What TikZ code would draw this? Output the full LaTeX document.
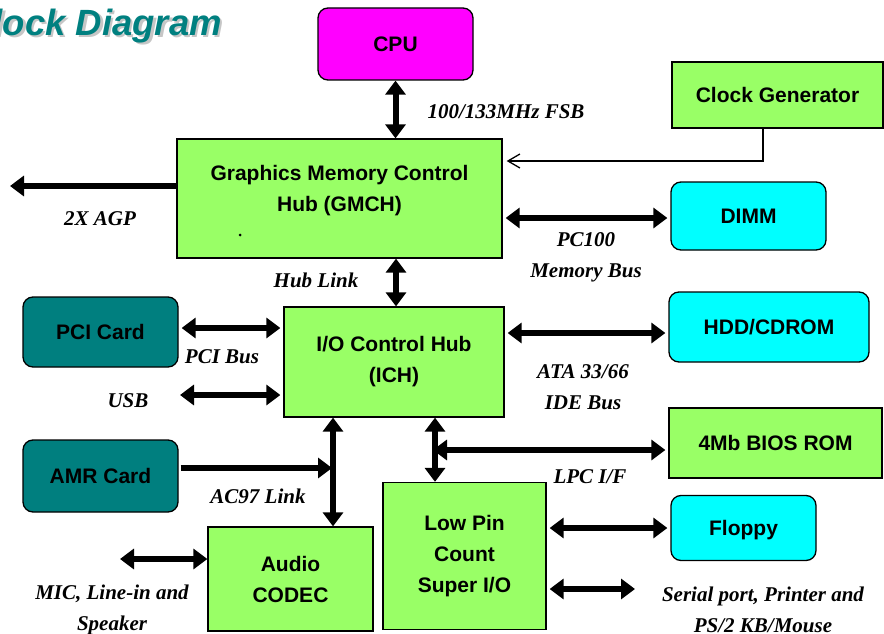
\documentclass[tikz,border=0pt]{standalone}
\usepackage{fontspec}
\setmainfont{Liberation Serif}
\setsansfont{Liberation Sans}
\usetikzlibrary{arrows.meta}
\definecolor{boxgreen}{HTML}{99FF66}
\definecolor{boxcyan}{HTML}{00FFFF}
\definecolor{boxteal}{HTML}{007F7F}
\definecolor{boxmagenta}{HTML}{FF00FF}
\definecolor{titleteal}{HTML}{008080}
\begin{document}
\begin{tikzpicture}[x=1pt,y=-1pt,
	box/.style={draw, line width=1.3pt, align=center, inner sep=0pt,
		font=\sffamily\bfseries\fontsize{21}{31}\selectfont},
	chip/.style={box, fill=boxgreen},
	drive/.style={box, fill=boxcyan, rounded corners=10pt},
	card/.style={box, fill=boxteal, rounded corners=10pt},
	lbl/.style={align=center, inner sep=0pt, font=\bfseries\itshape\fontsize{21}{31}\selectfont},
	bus/.style={line width=6pt, {Triangle[length=14pt,width=20pt]}-{Triangle[length=14pt,width=20pt]}, shorten <=3pt, shorten >=3pt},
	feed/.style={line width=6pt, -{Triangle[length=14pt,width=20pt]}}]
	\useasboundingbox (0,0) rectangle (884,634);
	\node[anchor=east, text=gray!45, font=\sffamily\bfseries\itshape\fontsize{36.5}{40}\selectfont] (shadow) at (228,28.5) {Block Diagram};
	\node[anchor=east, text=titleteal, font=\sffamily\bfseries\itshape\fontsize{36.5}{40}\selectfont] (title) at (225.5,26) {Block Diagram};
	\node[box, fill=boxmagenta, rounded corners=10pt, minimum width=155, minimum height=72] (cpu) at (395.5,44) {CPU};
	\node[chip, minimum width=211, minimum height=66] (clk) at (777.5,95) {Clock Generator};
	\node[chip, minimum width=325, minimum height=119] (gmch) at (339.5,198.5) {};
	\node[lbl, font=\sffamily\bfseries\fontsize{21}{31}\selectfont] (gmchtext) at (339.5,191) {Graphics Memory Control\\Hub (GMCH)};
	\fill (240,235) circle (1.5);
	\node[drive, minimum width=155, minimum height=68] (dimm) at (748.5,216) {DIMM};
	\node[drive, minimum width=200, minimum height=70] (hdd) at (769,327) {HDD/CDROM};
	\node[chip, minimum width=213, minimum height=70] (bios) at (775.5,443) {4Mb BIOS ROM};
	\node[drive, minimum width=145, minimum height=65, text depth=-3pt] (floppy) at (743.5,528) {Floppy};
	\node[card, minimum width=155, minimum height=70] (pci) at (100.5,332) {PCI Card};
	\node[card, minimum width=155, minimum height=72] (amr) at (100.5,476) {AMR Card};
	\node[chip, minimum width=220, minimum height=110] (ich) at (394,362) {I/O Control Hub\\(ICH)};
	\node[chip, minimum width=165, minimum height=104] (audio) at (290.5,579) {Audio\\CODEC};
	\node[chip, minimum width=163, minimum height=147] (lpc) at (464.5,556) {Low Pin\\Count\\Super I/O};

	\coordinate (agp) at (10,186);
	\coordinate (clkturn) at (763,161);
	\coordinate (usb) at (180,395);
	\coordinate (ac97) at (333,468);
	\coordinate (lpcx) at (435,450);
	\coordinate (serial) at (635,589);
	\coordinate (mic) at (120,559);

	\draw[bus, shorten <=0pt, shorten >=0pt] (cpu.south) -- (cpu.south |- gmch.north);
	\draw[feed] (gmch.west |- agp) -- (agp);
	\draw[line width=1.3pt, -{Straight Barb[length=12pt,width=14pt]}] (clkturn |- clk.south) -- (clkturn) -- ([xshift=4pt]gmch.east |- clkturn);
	\draw[bus] (gmch.east |- 0,218) -- (dimm.west |- 0,218);
	\draw[bus, shorten <=0pt, shorten >=0pt] (ich.north -| 396,0) -- (gmch.south -| 396,0);
	\draw[bus] (pci.east |- 0,328) -- (ich.west |- 0,328);
	\draw[bus, shorten <=0pt] (usb) -- (ich.west |- usb);
	\draw[bus] (ich.east |- 0,333) -- (hdd.west |- 0,333);
	\draw[feed, shorten <=2pt, shorten >=1pt] (amr.east |- ac97) -- (ac97);
	\draw[bus, shorten <=0pt, shorten >=0pt] (ich.south -| ac97) -- (audio.north -| ac97);
	\draw[bus, shorten <=0pt, shorten >=0pt] (ich.south -| lpcx) -- (lpc.north -| lpcx);
	\draw[bus, shorten <=-2pt] (lpcx) -- (bios.west |- lpcx);
	\draw[bus] (lpc.east |- floppy) -- (floppy.west);
	\draw[bus, shorten >=0pt] (lpc.east |- serial) -- (serial);
	\draw[bus, shorten <=0pt, shorten >=0pt] (mic) -- (audio.west |- mic);

	\node[lbl] (fsb) at (506,112) {100/133MHz FSB};
	\node[lbl] (agplbl) at (100,219) {2X AGP};
	\node[lbl] (memlbl) at (586,257) {PC100\\Memory Bus};
	\node[lbl] (hublbl) at (316,280) {Hub Link};
	\node[lbl] (pcilbl) at (222,357) {PCI Bus};
	\node[lbl] (usblbl) at (128,401) {USB};
	\node[lbl] (atalbl) at (583,387) {ATA 33/66\\IDE Bus};
	\node[lbl] (ac97lbl) at (258,496) {AC97 Link};
	\node[lbl] (lpclbl) at (590,477) {LPC I/F};
	\node[lbl] (serlbl) at (763,610) {Serial port, Printer and\\PS/2 KB/Mouse};
	\node[lbl] (miclbl) at (112,610) {MIC, Line-in and\\Speaker};
\end{tikzpicture}
\end{document}
